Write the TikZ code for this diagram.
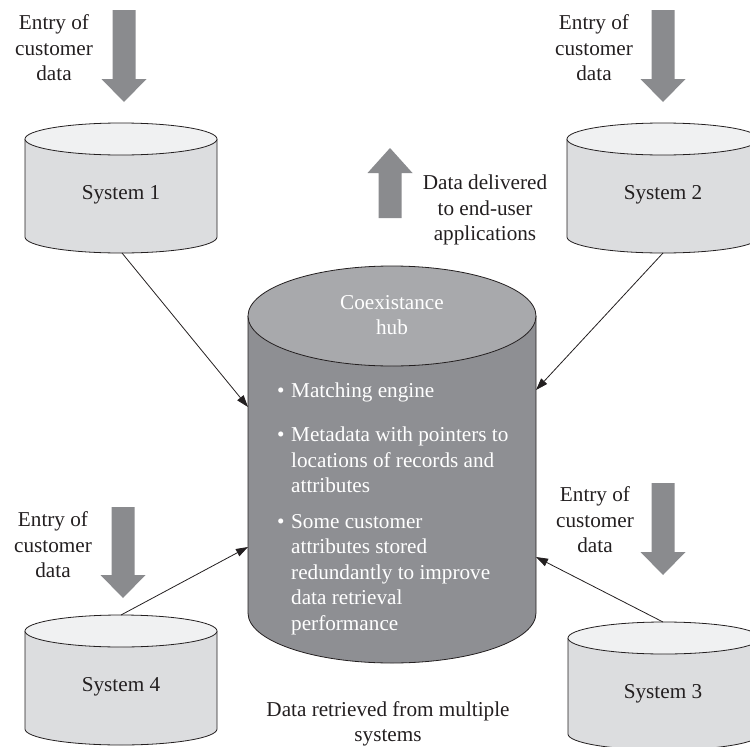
\documentclass[tikz,border=0pt]{standalone}
\usepackage{fontspec}
\setmainfont{Liberation Serif}
\usetikzlibrary{arrows.meta}
\definecolor{cylside}{HTML}{DCDDDF}
\definecolor{cyltop}{HTML}{F0F1F2}
\definecolor{hubside}{HTML}{8E8F93}
\definecolor{hubtop}{HTML}{A8A9AC}
\definecolor{bigarrow}{HTML}{8A8B8E}
\definecolor{ink}{HTML}{231F20}
\newcommand\mycyl[7]{%
  \fill[#6] ({#1-#4},{-#2}) -- ({#1-#4},{-#3}) arc[start angle=180,end angle=360,x radius=#4,y radius=#5] -- ({#1+#4},{-#2}) -- cycle;
  \draw[outl] ({#1-#4},{-#2}) -- ({#1-#4},{-#3}) arc[start angle=180,end angle=360,x radius=#4,y radius=#5] -- ({#1+#4},{-#2});
  \filldraw[fill=#7, outl] (#1,{-#2}) ellipse[x radius=#4,y radius=#5];
}
\newcommand\bigarr[4]{%
  \fill[bigarrow] ({#1-11.5},{-#2}) -- ({#1+11.5},{-#2}) -- ({#1+11.5},{-#3}) -- ({#1+22.5},{-#3}) -- (#1,{-#4}) -- ({#1-22.5},{-#3}) -- ({#1-11.5},{-#3}) -- cycle;
}
\begin{document}
\begin{tikzpicture}[x=1pt,y=1pt,
  outl/.style={draw=ink, line width=0.8pt},
  lbl/.style={font=\fontsize{21.2}{25.5}\selectfont, align=center, inner sep=0pt, text=ink},
  hubtxt/.style={font=\fontsize{21.2}{25.5}\selectfont, inner sep=0pt, text=white},
  conn/.style={draw=ink, line width=0.8pt, -{Triangle[length=12pt,width=8pt]}}]
\useasboundingbox (0,0) rectangle (750,-747);
\clip (0,0) rectangle (750,-747);

% big arrows
\bigarr{124}{10}{79}{102}
\bigarr{663}{10}{79}{102}
\bigarr{663}{483}{552}{575}
\bigarr{123}{507}{575}{598}
\bigarr{390}{218}{173}{148}

% cylinders
\mycyl{121}{139}{237}{96}{16}{cylside}{cyltop}
\mycyl{663}{139}{237}{96}{16}{cylside}{cyltop}
\mycyl{664}{638}{734}{96}{16}{cylside}{cyltop}
\mycyl{121}{631}{729}{96}{16}{cylside}{cyltop}
\mycyl{392}{316}{613}{144}{50}{hubside}{hubtop}

% labels
\node[lbl] (e1) at (54,-48) {Entry of\\customer\\data};
\node[lbl] (e2) at (594,-48) {Entry of\\customer\\data};
\node[lbl] (e3) at (595,-520) {Entry of\\customer\\data};
\node[lbl] (e4) at (53,-545) {Entry of\\customer\\data};
\node[lbl] (deliv) at (485,-210) {Data delivered\\to end-user\\applications};
\node[lbl] (retr) at (388,-724) {Data retrieved from multiple\\systems};
\node[lbl] (s1) at (121,-195) {System 1};
\node[lbl] (s2) at (663,-195) {System 2};
\node[lbl] (s3) at (663,-694) {System 3};
\node[lbl] (s4) at (121,-687) {System 4};

\node[hubtxt, align=center] (hubt) at (392,-315) {Coexistance\\hub};
\node[hubtxt, anchor=north west] (list) at (277,-379) {\begin{tabular}{@{}p{14pt}@{}l@{}}
\textbullet & Matching engine\\[19pt]
\textbullet & Metadata with pointers to\\
 & locations of records and\\
 & attributes\\[10pt]
\textbullet & Some customer\\
 & attributes stored\\
 & redundantly to improve\\
 & data retrieval\\
 & performance
\end{tabular}};

% connectors
\coordinate (s1b) at (122,-253);
\coordinate (h1) at (248,-407);
\coordinate (s2b) at (663,-253);
\coordinate (h2) at (536,-390);
\coordinate (s4t) at (121,-615);
\coordinate (h4) at (248,-547);
\coordinate (s3t) at (663,-622);
\coordinate (h3) at (536,-557);
\draw[conn] (s1b) -- (h1);
\draw[conn] (s2b) -- (h2);
\draw[conn] (s4t) -- (h4);
\draw[conn] (s3t) -- (h3);
\end{tikzpicture}
\end{document}
